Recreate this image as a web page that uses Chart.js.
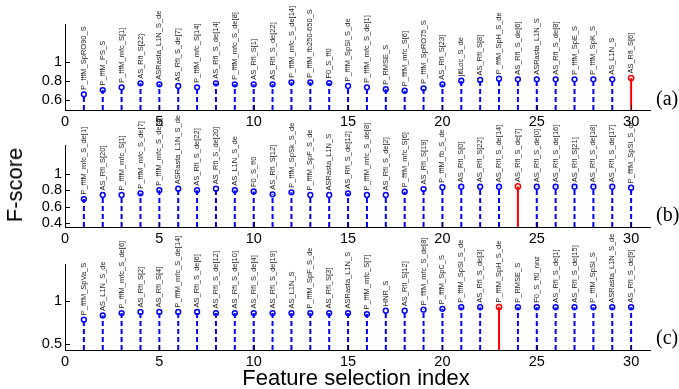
<!DOCTYPE html>
<html>
<head>
<meta charset="utf-8">
<script src="https://cdn.jsdelivr.net/npm/chart.js@4.4.1/dist/chart.umd.min.js"></script>
<style>
  html, body { margin: 0; padding: 0; background: #fff; }
  #wrap { position: relative; width: 679px; height: 389px; overflow: hidden; }
  #wrap canvas { position: absolute; left: 0; top: 0; }
  .txt { position: absolute; font-family: "Liberation Sans", Arial, sans-serif; color: #000; white-space: nowrap; }
  .tag { position: absolute; font-family: "Liberation Serif", "Times New Roman", serif; font-size: 20px; color: #000; }
</style>
</head>
<body>
<div id="wrap">
  <canvas id="panel-a" width="679" height="389"></canvas>
  <canvas id="panel-b" width="679" height="389"></canvas>
  <canvas id="panel-c" width="679" height="389"></canvas>
  <div class="txt" id="ylab" style="font-size:22px; left:15px; top:185px; transform:translate(-50%,-50%) rotate(-90deg);">F-score</div>
  <div class="txt" id="xlab" style="font-size:22px; left:356px; top:378px; transform:translate(-50%,-50%);">Feature selection index</div>
  <div class="tag" style="left:656px; top:87px;">(a)</div>
  <div class="tag" style="left:656px; top:203px;">(b)</div>
  <div class="tag" style="left:656px; top:326px;">(c)</div>
</div>
<script>
// feature selection index (x) and tick labels
const featureIdx = [1,2,3,4,5,6,7,8,9,10,11,12,13,14,15,16,17,18,19,20,21,22,23,24,25,26,27,28,29,30];
const xTicks = [0, 5, 10, 15, 20, 25, 30];

// panel (a)
const namesA = [
    "P_fffM_SpRO90_S", "P_fffM_PS_S", "P_fffM_mfc_S[1]", "AS_Rfl_S[22]", "ASRasta_L1N_S_de",
    "AS_Rfl_S_de[7]", "P_fffM_mfc_S[14]", "AS_Rfl_S_de[14]", "P_fffM_mfc_S_de[8]", "AS_Rfl_S[1]",
    "AS_Rfl_S_de[22]", "P_fffM_mfc_S_de[14]", "P_fffM_fb250-650_S", "F0_S_ff0", "P_fffM_SpSl_S_de",
    "P_fffM_mfc_S_de[1]", "P_RMSE_S", "P_fffM_mfc_S[6]", "P_fffM_SpRO75_S", "AS_Rfl_S[23]",
    "jitLoc_S_de", "AS_Rfl_S[8]", "P_fffM_SpH_S_de", "AS_Rfl_S_de[6]", "ASRasta_L1N_S",
    "AS_Rfl_S_de[8]", "P_fffM_SpE_S", "P_fffM_SpK_S", "AS_L1N_S", "AS_Rfl_S[6]"
];
const scoresA = [
    0.664, 0.709, 0.737, 0.779, 0.769, 0.751, 0.737, 0.779, 0.769, 0.769,
    0.769, 0.790, 0.790, 0.782, 0.751, 0.737, 0.717, 0.702, 0.727, 0.769,
    0.806, 0.814, 0.828, 0.821, 0.821, 0.821, 0.821, 0.821, 0.821, 0.834
];
const bestA = 30;
const yRangeA = [0.5, 1.4];
const yTicksA = [0.6, 0.8, 1];

// panel (b)
const namesB = [
    "P_fffM_mfc_S_de[1]", "AS_Rfl_S[20]", "P_fffM_mfc_S[1]", "P_fffM_mfc_S_de[7]", "P_fffM_mfc_S_de[4]",
    "ASRasta_L1N_S_de", "AS_Rfl_S_de[22]", "AS_Rfl_S_de[20]", "AS_L1N_S_de", "F0_S_ff0",
    "AS_Rfl_S[12]", "P_fffM_SpSk_S_de", "P_fffM_SpF_S_de", "ASRasta_L1N_S", "AS_Rfl_S_de[12]",
    "P_fffM_mfc_S_de[8]", "AS_Rfl_S_de[2]", "P_fffM_mfc_S[6]", "AS_Rfl_S[19]", "P_fffM_fb_S_de",
    "AS_Rfl_S[0]", "AS_Rfl_S[22]", "AS_Rfl_S_de[14]", "AS_Rfl_S_de[7]", "AS_Rfl_S_de[0]",
    "AS_Rfl_S_de[16]", "AS_Rfl_S[21]", "AS_Rfl_S_de[18]", "AS_Rfl_S_de[17]", "P_fffM_SpSl_S_de"
];
const scoresB = [
    0.691, 0.740, 0.740, 0.761, 0.798, 0.817, 0.798, 0.817, 0.798, 0.783,
    0.749, 0.773, 0.740, 0.740, 0.761, 0.740, 0.740, 0.780, 0.813, 0.835,
    0.841, 0.841, 0.841, 0.845, 0.841, 0.841, 0.841, 0.841, 0.841, 0.829
];
const bestB = 24;
const yRangeB = [0.35, 1.35];
const yTicksB = [0.4, 0.6, 0.8, 1];

// panel (c)
const namesC = [
    "P_fffM_SpVa_S", "AS_L1N_S_de", "P_fffM_mfc_S_de[6]", "AS_Rfl_S[2]", "AS_Rfl_S[4]",
    "P_fffM_mfc_S_de[14]", "AS_Rfl_S_de[6]", "AS_Rfl_S_de[12]", "AS_Rfl_S_de[10]", "AS_Rfl_S_de[4]",
    "AS_Rfl_S_de[19]", "AS_L1N_S", "P_fffM_SpF_S_de", "AS_Rfl_S[3]", "ASRasta_L1N_S",
    "P_fffM_mfc_S[7]", "HNR_S", "AS_Rfl_S[12]", "P_fffM_mfc_S_de[8]", "P_fffM_SpC_S",
    "P_fffM_SpSl_S_de", "AS_Rfl_S_de[3]", "P_fffM_SpH_S_de", "P_RMSE_S", "F0_S_ff0_nnz",
    "AS_Rfl_S_de[1]", "AS_Rfl_S_de[15]", "P_fffM_SpSl_S", "ASRasta_L1N_S_de", "AS_Rfl_S_de[9]"
];
const scoresC = [
    0.785, 0.836, 0.864, 0.876, 0.876, 0.876, 0.876, 0.864, 0.864, 0.864,
    0.864, 0.864, 0.864, 0.864, 0.864, 0.852, 0.891, 0.891, 0.903, 0.914,
    0.932, 0.932, 0.935, 0.932, 0.932, 0.932, 0.932, 0.932, 0.932, 0.932
];
const bestC = 23;
const yRangeC = [0.43, 1.44];
const yTicksC = [0.5, 1];

const FONT = '"Liberation Sans", Arial, sans-serif';

// rotated feature names above each marker
const stemLabels = {
    id: 'stemLabels',
    afterDatasetsDraw(chart) {
        const ctx = chart.ctx;
        ctx.save();
        ctx.font = '7.5px ' + FONT;
        ctx.fillStyle = '#222';
        ctx.textAlign = 'left';
        ctx.textBaseline = 'middle';
        chart.data.datasets.forEach((ds, di) => {
            if (!ds.names) return;
            chart.getDatasetMeta(di).data.forEach((pt, i) => {
                ctx.save();
                ctx.translate(pt.x, pt.y - 4.5);
                ctx.rotate(-Math.PI / 2);
                ctx.fillText(ds.names[i], 0, 0);
                ctx.restore();
            });
        });
        ctx.restore();
    }
};

// matlab style ticks pointing inwards
const innerTicks = {
    id: 'innerTicks',
    afterDraw(chart) {
        const ctx = chart.ctx;
        const {x, y} = chart.scales;
        const area = chart.chartArea;
        ctx.save();
        ctx.strokeStyle = '#000';
        ctx.lineWidth = 1;
        ctx.beginPath();
        x.ticks.forEach(t => {
            const px = Math.round(x.getPixelForValue(t.value)) + 0.5;
            ctx.moveTo(px, area.bottom);
            ctx.lineTo(px, area.bottom - 5);
        });
        y.ticks.forEach(t => {
            const py = Math.round(y.getPixelForValue(t.value)) + 0.5;
            ctx.moveTo(area.left, py);
            ctx.lineTo(area.left + 5, py);
        });
        ctx.stroke();
        ctx.restore();
    }
};

function makeStemChart(id, names, scores, best, yRange, yTicks, top, bottom) {
    const stemPts = [];
    const markPts = [];
    const markNames = [];
    featureIdx.forEach((f, i) => {
        if (f === best) return;
        stemPts.push({x: f, y: yRange[0]}, {x: f, y: scores[i]}, {x: f, y: null});
        markPts.push({x: f, y: scores[i]});
        markNames.push(names[i]);
    });
    const bi = featureIdx.indexOf(best);

    return new Chart(document.getElementById(id), {
        type: 'scatter',
        data: {
            datasets: [
                {
                    type: 'line',
                    data: stemPts,
                    borderColor: '#0000ff',
                    borderWidth: 2,
                    borderDash: [5, 3],
                    pointRadius: 0,
                    spanGaps: false,
                    fill: false
                },
                {
                    type: 'line',
                    data: [{x: best, y: yRange[0]}, {x: best, y: scores[bi]}],
                    borderColor: '#ff0000',
                    borderWidth: 2,
                    pointRadius: 0,
                    fill: false
                },
                {
                    data: markPts,
                    names: markNames,
                    pointStyle: 'circle',
                    pointRadius: 2.4,
                    borderColor: '#0000ff',
                    backgroundColor: '#ffffff',
                    borderWidth: 1.5,
                    clip: false
                },
                {
                    data: [{x: best, y: scores[bi]}],
                    names: [names[bi]],
                    pointStyle: 'circle',
                    pointRadius: 2.6,
                    borderColor: '#ff0000',
                    backgroundColor: '#ffffff',
                    borderWidth: 1.5,
                    clip: false
                }
            ]
        },
        options: {
            responsive: false,
            animation: false,
            events: [],
            layout: { padding: { left: 0, right: 29, top: top, bottom: 389 - bottom - 22 } },
            plugins: { legend: { display: false }, tooltip: { enabled: false } },
            scales: {
                x: {
                    type: 'linear',
                    min: 0,
                    max: 31,
                    grid: { display: false, drawTicks: false },
                    border: { display: true, color: '#000', width: 1 },
                    afterFit: s => { s.height = 22; },
                    afterBuildTicks: s => { s.ticks = xTicks.map(v => ({ value: v })); },
                    ticks: { color: '#000', padding: 3, maxRotation: 0, font: { family: FONT, size: 14.5 } }
                },
                y: {
                    type: 'linear',
                    min: yRange[0],
                    max: yRange[1],
                    grid: { display: false, drawTicks: false },
                    border: { display: true, color: '#000', width: 1 },
                    afterFit: s => { s.width = 65; },
                    afterBuildTicks: s => { s.ticks = yTicks.map(v => ({ value: v })); },
                    ticks: { color: '#000', padding: 3, font: { family: FONT, size: 14.5 }, callback: v => String(v) }
                }
            }
        },
        plugins: [stemLabels, innerTicks]
    });
}

const chartA = makeStemChart('panel-a', namesA, scoresA, bestA, yRangeA, yTicksA, 24, 110);
const chartB = makeStemChart('panel-b', namesB, scoresB, bestB, yRangeB, yTicksB, 145, 227);
const chartC = makeStemChart('panel-c', namesC, scoresC, bestC, yRangeC, yTicksC, 264, 350);
</script>
</body>
</html>
